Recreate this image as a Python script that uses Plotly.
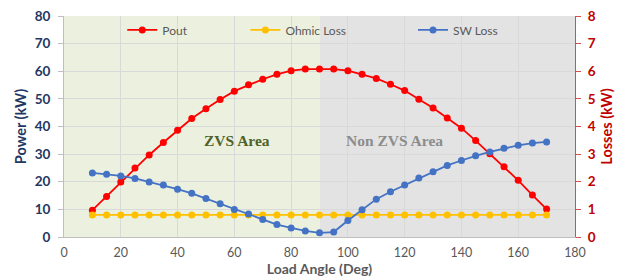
import plotly.graph_objects as go

angles = [10, 15, 20, 25, 30, 35, 40, 45, 50, 55, 60, 65, 70, 75, 80, 85, 90,
          95, 100, 105, 110, 115, 120, 125, 130, 135, 140, 145, 150, 155, 160, 165, 170]
pout_kw = [9.7, 14.7, 19.9, 25.0, 29.7, 34.2, 38.6, 42.9, 46.4, 49.8, 52.8, 55.1, 57.1, 58.9, 60.2, 60.8, 60.8,
           60.8, 60.2, 58.9, 57.4, 55.3, 53.0, 49.9, 46.7, 43.1, 39.4, 34.9, 30.1, 25.4, 20.5, 15.2, 10.1]
ohmic_kw = [0.8, 0.8, 0.8, 0.8, 0.8, 0.8, 0.8, 0.8, 0.8, 0.8, 0.8, 0.8, 0.8, 0.8, 0.8, 0.8, 0.8,
            0.8, 0.8, 0.8, 0.8, 0.8, 0.8, 0.8, 0.8, 0.8, 0.8, 0.8, 0.8, 0.8, 0.8, 0.8, 0.8]
sw_kw = [2.32, 2.27, 2.21, 2.12, 1.99, 1.88, 1.73, 1.58, 1.39, 1.20, 1.00, 0.83, 0.63, 0.45, 0.33, 0.22, 0.15,
         0.18, 0.60, 0.99, 1.37, 1.64, 1.88, 2.14, 2.36, 2.59, 2.77, 2.94, 3.08, 3.21, 3.32, 3.40, 3.44]

regions = ["ZVS Area", "Non ZVS Area"]
region_bounds = [(0, 90), (90, 180)]

FONT = "Lato"
NAVY = "#1F3864"
RED = "#C00000"
GREY = "#595959"

fig = go.Figure()
fig.add_trace(go.Scatter(x=angles, y=pout_kw, name="Pout", mode="lines+markers",
                         line=dict(color="#FF0000", width=1.8), marker=dict(size=7, color="#FF0000"),
                         yaxis="y", legend="legend"))
fig.add_trace(go.Scatter(x=angles, y=ohmic_kw, name="Ohmic Loss", mode="lines+markers",
                         line=dict(color="#FFC000", width=1.8), marker=dict(size=7, color="#FFC000"),
                         yaxis="y2", legend="legend2"))
fig.add_trace(go.Scatter(x=angles, y=sw_kw, name="SW Loss", mode="lines+markers",
                         line=dict(color="#4472C4", width=1.8), marker=dict(size=7, color="#4472C4"),
                         yaxis="y2", legend="legend3"))

fills = ["#EBF1DE", "#E3E3E3"]
for (x0, x1), fc in zip(region_bounds, fills):
    fig.add_shape(type="rect", xref="x", yref="y", x0=x0, x1=x1, y0=0, y1=80,
                  fillcolor=fc, line_width=0, layer="below")

fig.add_annotation(x=61, y=35, xref="x", yref="y", text="<b>" + regions[0] + "</b>", showarrow=False,
                   font=dict(family="Liberation Serif", size=15.5, color="#4F6228"))
fig.add_annotation(x=116.5, y=35, xref="x", yref="y", text="<b>" + regions[1] + "</b>", showarrow=False,
                   font=dict(family="Liberation Serif", size=15.5, color="#8C8C8C"))

legfont = dict(family=FONT, size=12, color=GREY)
common_leg = dict(orientation="h", yanchor="middle", y=0.937, xanchor="left",
                  bgcolor="rgba(0,0,0,0)", font=legfont, itemwidth=30)

fig.update_layout(
    template="none",
    width=633, height=277,
    margin=dict(l=64, r=58, t=16, b=40, autoexpand=False),
    paper_bgcolor="white", plot_bgcolor="white",
    showlegend=True,
    legend=dict(x=0.114, **common_leg),
    legend2=dict(x=0.355, **common_leg),
    legend3=dict(x=0.683, **common_leg),
    xaxis=dict(range=[0, 180], dtick=20, tick0=0, showgrid=True, gridcolor="#D9D9D9", gridwidth=1,
               automargin=False,
               zeroline=False, showline=True, linecolor="#BFBFBF", linewidth=1,
               ticks="outside", ticklen=0, tickcolor="#BFBFBF", ticklabelstandoff=4,
               tickfont=dict(family=FONT, size=12.5, color=GREY),
               title=dict(text="<b>Load Angle (Deg)</b>", font=dict(family=FONT, size=14, color=GREY), standoff=2)),
    yaxis=dict(range=[0, 80], dtick=10, showgrid=True, gridcolor="#D9D9D9", gridwidth=1,
               automargin=False,
               zeroline=False, showline=True, linecolor="#BFBFBF", linewidth=1,
               ticks="outside", ticklen=5, tickcolor="#BFBFBF", ticklabelstandoff=5,
               tickfont=dict(family=FONT, size=13.5, color=NAVY, weight="bold"),
               title=dict(text="<b>Power (kW)</b>", font=dict(family=FONT, size=14.5, color=NAVY), standoff=4)),
    yaxis2=dict(range=[0, 8], dtick=1, overlaying="y", side="right", showgrid=False,
                automargin=False,
                zeroline=False, showline=True, linecolor="#D05050", linewidth=1,
                ticks="outside", ticklen=5, tickcolor="#D05050", ticklabelstandoff=4,
                tickfont=dict(family=FONT, size=13.5, color=RED, weight="bold"),
                title=dict(text="<b>Losses (kW)</b>", font=dict(family=FONT, size=14.5, color=RED), standoff=7)),
)

fig.write_html("out.html", config={"displayModeBar": False},
               post_script="document.body.style.margin='0px';document.body.style.overflow='hidden';")
